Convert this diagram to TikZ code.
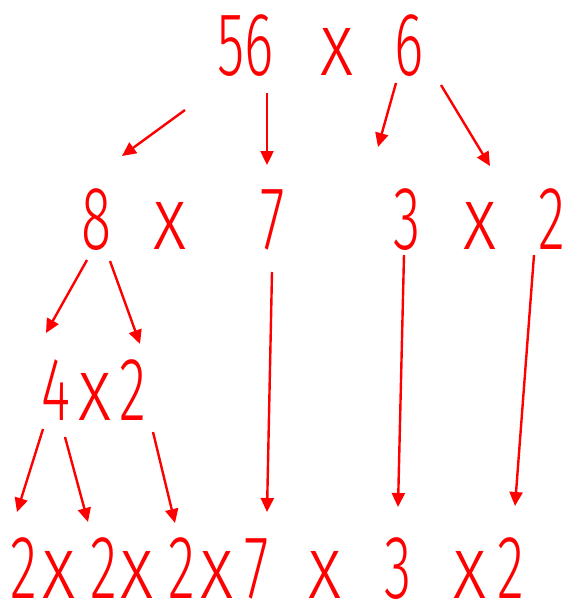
\documentclass[tikz,border=0pt]{standalone}
\usepackage{fontspec}
\usetikzlibrary{arrows.meta}
\newfontfamily\digfont[FakeStretch=0.62]{Fira Sans Light}
\newfontfamily\timesfont[FakeStretch=0.8]{Fira Sans Light}
\newcommand{\tms}{{\timesfont x}}
\tikzset{
  num/.style={text=red,font=\digfont\fontsize{90pt}{90pt}\selectfont,
    inner sep=0pt,anchor=base},
  arr/.style={red,line width=2.4pt,-{Triangle[length=14pt,width=13pt]}},
}

\begin{document}
\begin{tikzpicture}[x=1pt,y=-1pt]
  \useasboundingbox (0,0) rectangle (570,603);
  % top product
  \node[num] (t56) at (246,75) {56};
  \node[num] (tx)  at (337,75) {\tms};
  \node[num] (t6)  at (409,75) {6};
  % second row
  \node[num] (m8)  at (97,249)  {8};
  \node[num] (mx1) at (170,249) {\tms};
  \node[num] (m7)  at (273,249) {7};
  \node[num] (m3)  at (407,249) {3};
  \node[num] (mx2) at (480,249) {\tms};
  \node[num] (m2)  at (552,249) {2};
  % split of 8
  \node[num] (f4x2) at (94,420) {4\kern8pt\tms\kern8pt2};
  % bottom row
  \foreach \n/\xx/\t in {1/24/2,2/59/\tms,3/104/2,4/137/\tms,5/182/2,6/217/\tms,
      7/257/7,8/325/\tms,9/398/3,10/470/\tms,11/511/2}
    \node[num] (b\n) at (\xx,598) {\t};
  % arrows
  \draw[arr] ([shift={(-61,35)}]t56.base) -- ([shift={(25,-93)}]m8.base);
  \draw[arr] ([shift={(21,18)}]t56.base)  -- ([shift={(-6,-84)}]m7.base);
  \draw[arr] ([shift={(-13,8)}]t6.base)   -- ([shift={(-29,-102)}]m3.base);
  \draw[arr] ([shift={(32,10)}]t6.base)   -- ([shift={(10,-83)}]mx2.base);
  \draw[arr] ([shift={(-10,11)}]m8.base)  -- ([shift={(-48,-87)}]f4x2.base);
  \draw[arr] ([shift={(13,12)}]m8.base)   -- ([shift={(46,-76)}]f4x2.base);
  \draw[arr] ([shift={(-1,23)}]m7.base)   -- ([shift={(10,-86)}]b7.base);
  \draw[arr] ([shift={(-3,6)}]m3.base)    -- ([shift={(0,-91)}]b9.base);
  \draw[arr] ([shift={(-18,6)}]m2.base)   -- ([shift={(4,-92)}]b11.base);
  \draw[arr] ([shift={(-51,9)}]f4x2.base) -- ([shift={(-7,-86)}]b1.base);
  \draw[arr] ([shift={(-29,17)}]f4x2.base) -- ([shift={(-16,-76)}]b3.base);
  \draw[arr] ([shift={(59,12)}]f4x2.base) -- ([shift={(-7,-75)}]b5.base);
\end{tikzpicture}
\end{document}
